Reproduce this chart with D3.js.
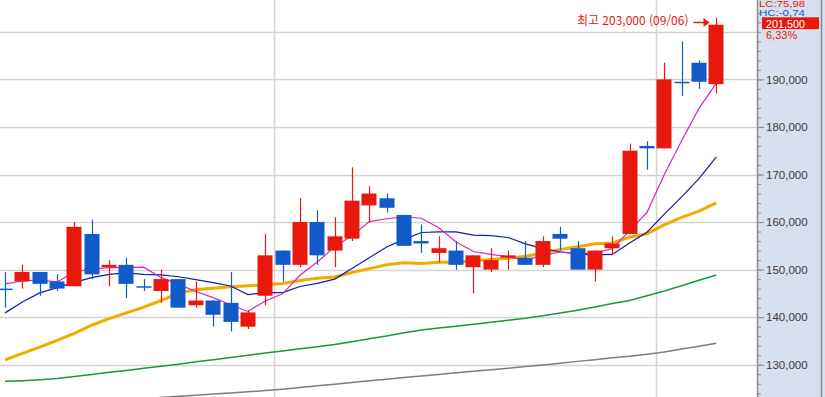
<!DOCTYPE html>
<html lang="ko">
<head>
<meta charset="utf-8">
<title>일봉 차트</title>
<script src="https://d3js.org/d3.v7.min.js"></script>
<style>
body { margin: 0; background: #fff; }
svg { display: block; }
.price-axis text { font: 11.5px "Liberation Sans", Arial, sans-serif; fill: #3a3a3a; }
.price-axis path { display: none; }
.price-axis line { stroke: #8a8a8a; }
</style>
</head>
<body>
<div id="chart"></div>
<script>

// trading days shown (2022)
var dates = ["07/08","07/11","07/12","07/13","07/14","07/15","07/18","07/19","07/20","07/21",
  "07/22","07/25","07/26","07/27","07/28","07/29","08/01","08/02","08/03","08/04",
  "08/05","08/08","08/09","08/10","08/11","08/12","08/16","08/17","08/18","08/19",
  "08/22","08/23","08/24","08/25","08/26","08/29","08/30","08/31","09/01","09/02",
  "09/05","09/06"];

var open = [146000,147500,149500,147500,146500,157500,150500,151000,146500,145500,
  148000,142500,143500,143000,138000,144500,154000,151000,160000,154000,
  156500,163500,165000,161500,156000,153500,154000,150500,150000,152500,
  152500,151000,157500,154500,150000,154500,157500,176000,175500,189500,
  193500,189000];
var high = [149500,151000,149500,149000,160000,160500,152000,152500,148000,150000,
  148000,147500,143500,149500,141500,157500,154000,165000,162500,161000,
  171500,167500,166000,161500,159500,157000,156000,153000,154500,154000,
  156000,157000,159000,156000,154000,157000,176500,177000,193500,198000,
  194000,203000];
var low = [142000,146000,144500,145500,146500,148000,146500,144000,145500,143000,
  142000,142000,138000,137000,137500,142500,147500,150500,151000,150500,
  156000,160000,162000,155000,153500,151500,150000,145000,149500,150000,
  151000,150500,154000,150000,147500,153000,157500,171000,175500,186500,
  188000,187000];
var close = [146000,149500,147000,146000,159000,149000,151000,147000,146500,148000,
  142000,143500,140500,139000,141000,153000,151000,160000,153000,157000,
  164500,166000,163000,155000,155500,154500,151000,153000,152000,153000,
  151000,156000,156500,150000,154000,155500,175000,175500,190000,189500,
  189500,201500];

// moving averages
var ma5 = [147000,147600,147800,147400,149500,150100,150400,150400,150500,148300,
  146900,145400,144100,142600,141200,143400,144900,148800,151600,154800,
  157100,160100,160700,161100,160800,158800,155800,153800,153200,152700,
  152000,153000,153700,153300,153500,154400,158200,162000,170000,177100,
  183900,189200];
var ma10 = [140900,143200,145100,146200,147300,148300,149000,149300,149000,148900,
  148500,147900,147250,146550,144750,145150,145150,146450,147100,148000,
  150250,152500,154750,156350,157800,157950,157950,157250,157150,156750,
  155400,154400,153750,153250,153100,153200,155600,157850,161650,165300,
  169150,173700];
var ma20 = [131000,132400,133700,135100,136600,138300,139700,140900,142100,143500,
  145000,145800,146100,146400,146600,146800,147100,147700,148200,148450,
  149400,150200,151000,151450,151300,151550,151550,151850,152100,152400,
  152800,153450,154250,154800,155450,155600,156800,157550,159400,161000,
  162300,164050];
var ma60 = [126500,126650,126850,127100,127500,127950,128400,128800,129250,129650,
  130100,130600,131050,131500,132000,132450,132900,133350,133800,134250,
  134850,135450,136050,136700,137300,137700,138100,138500,138950,139350,
  139750,140300,140850,141450,142150,142850,143500,144500,145500,146600,
  147750,148850];
var ma120 = [121000,121200,121450,121700,121900,122200,122400,122650,122900,123100,
  123350,123600,123850,124050,124300,124550,124850,125200,125550,125900,
  126250,126600,126950,127300,127600,127950,128300,128600,128950,129250,
  129600,129950,130300,130700,131050,131450,131800,132200,132650,133300,
  133900,134500];

var gridValues = [130000,140000,150000,160000,170000,180000,190000,200000];
var labelValues = [130000,140000,150000,160000,170000,180000,190000];

var width = 825, height = 397, plotRight = 757;
var upColor = "#e8190c", downColor = "#1259c9";

var svg = d3.select("#chart").append("svg")
    .attr("width", width)
    .attr("height", height);

var x = d3.scaleBand().domain(dates).range([-3.675, 725.025]).padding(0);
var y = d3.scaleLinear().domain([130000, 200000]).range([364.7, 31.85]);
function cx(i) { return Math.round(x(dates[i]) + x.bandwidth() / 2) + 0.5; }
function cy(v) { return Math.round(y(v)) + 0.5; }

svg.append("clipPath").attr("id", "plot-clip")
  .append("rect").attr("x", 0).attr("y", 0).attr("width", plotRight).attr("height", height);

var plot = svg.append("g").attr("clip-path", "url(#plot-clip)");

// horizontal grid
plot.selectAll(".hgrid").data(gridValues).enter().append("line")
    .attr("x1", 0).attr("x2", plotRight)
    .attr("y1", function(d) { return cy(d); })
    .attr("y2", function(d) { return cy(d); })
    .attr("stroke", "#d4d4d4").attr("stroke-width", 1.5);

// vertical grid at the first trading day of each month
var monthStarts = dates.filter(function(d, i) { return i > 0 && d.slice(0, 2) != dates[i - 1].slice(0, 2); });
plot.selectAll(".vgrid").data(monthStarts).enter().append("line")
    .attr("x1", function(d) { return Math.round(x(d)) + 0.5; })
    .attr("x2", function(d) { return Math.round(x(d)) + 0.5; })
    .attr("y1", 0).attr("y2", height)
    .attr("stroke", "#d4d4d4").attr("stroke-width", 1.5);

// moving average lines
var lines = [
  {values: ma120, color: "#7d7d7d", w: 1.5},
  {values: ma60, color: "#129a45", w: 1.5},
  {values: ma20, color: "#f0aa00", w: 3},
  {values: ma10, color: "#0c1fa6", w: 1.2},
  {values: ma5, color: "#e024b8", w: 1.2}
];
lines.forEach(function(l) {
  plot.append("path")
    .datum(l.values)
    .attr("fill", "none")
    .attr("stroke", l.color)
    .attr("stroke-width", l.w)
    .attr("d", d3.line()
      .x(function(d, i) { return x(dates[i]) + x.bandwidth() / 2; })
      .y(function(d) { return y(d); }));
});

// candles
var candles = plot.selectAll(".candle").data(dates).enter().append("g");
candles.append("line")
    .attr("x1", function(d, i) { return cx(i); })
    .attr("x2", function(d, i) { return cx(i); })
    .attr("y1", function(d, i) { return y(high[i]); })
    .attr("y2", function(d, i) { return y(low[i]); })
    .attr("stroke", function(d, i) { return close[i] > open[i] ? upColor : downColor; })
    .attr("stroke-width", 1.2);
candles.append("rect")
    .attr("x", function(d, i) { return cx(i) - 8; })
    .attr("width", 15)
    .attr("y", function(d, i) { return y(Math.max(open[i], close[i])); })
    .attr("height", function(d, i) { return Math.max(1.5, y(Math.min(open[i], close[i])) - y(Math.max(open[i], close[i]))); })
    .attr("fill", function(d, i) { return close[i] > open[i] ? upColor : downColor; });

// high annotation
var hi = d3.maxIndex(high);
svg.append("text")
    .attr("x", cx(hi) - 28)
    .attr("y", y(high[hi]) + 7)
    .attr("text-anchor", "end")
    .attr("font-family", "'Noto Sans CJK KR', sans-serif")
    .attr("font-size", 12)
    .attr("fill", upColor)
    .text("최고 " + d3.format(",")(high[hi]) + " (" + dates[hi] + ")");
svg.append("line")
    .attr("x1", cx(hi) - 23).attr("x2", cx(hi) - 12)
    .attr("y1", cy(high[hi]) + 4).attr("y2", cy(high[hi]) + 4)
    .attr("stroke", upColor).attr("stroke-width", 1.5);
svg.append("path")
    .attr("d", "M" + (cx(hi) - 13) + "," + (cy(high[hi]) - 0.5) + " L" + (cx(hi) - 7) + "," + (cy(high[hi]) + 4) +
      " L" + (cx(hi) - 13) + "," + (cy(high[hi]) + 8.5) + "Z")
    .attr("fill", upColor);

// price panel
svg.append("rect")
    .attr("x", plotRight).attr("y", 0).attr("width", width - plotRight).attr("height", height)
    .attr("fill", "#d6e0ee");
svg.append("line")
    .attr("x1", plotRight + 0.5).attr("x2", plotRight + 0.5).attr("y1", 0).attr("y2", height)
    .attr("stroke", "#8a8a8a").attr("stroke-width", 1.5);
svg.append("line")
    .attr("x1", 821.5).attr("x2", 821.5).attr("y1", 0).attr("y2", height)
    .attr("stroke", "#8a8a8a").attr("stroke-width", 1.5);

svg.append("g")
    .attr("class", "price-axis")
    .attr("transform", "translate(" + (plotRight + 1) + ",0)")
    .call(d3.axisRight(y).tickValues(d3.range(124000, 204001, 2000)).tickSize(3).tickFormat(""));
svg.append("g")
    .attr("class", "price-axis")
    .attr("transform", "translate(" + (plotRight + 1) + ",0)")
    .call(d3.axisRight(y).tickValues(labelValues).tickSize(6).tickPadding(2).tickFormat(d3.format(",")));

var last = close.length - 1;
var change = (close[last] - close[last - 1]) / close[last - 1] * 100;
var panelText = function(t, px, py, color, size) {
  return svg.append("text").attr("x", px).attr("y", py)
    .attr("font-family", "'Liberation Sans', Arial, sans-serif")
    .attr("font-size", size || 11.5).attr("fill", color).text(t);
};
panelText("LC:75,98", 759, 7.4, upColor, 8.2)
    .attr("textLength", 46).attr("lengthAdjust", "spacingAndGlyphs");
panelText("HC:-0,74", 759, 16.4, downColor, 8.2)
    .attr("textLength", 46).attr("lengthAdjust", "spacingAndGlyphs");
svg.append("rect")
    .attr("x", 762).attr("y", 17.3).attr("width", 57).attr("height", 11.8)
    .attr("fill", upColor);
panelText(d3.format(",")(close[last]), 766, 28, "#fff", 10.8);
panelText(change.toFixed(2).replace(".", ",") + "%", 766, 38.8, upColor, 11);

</script>
</body>
</html>
